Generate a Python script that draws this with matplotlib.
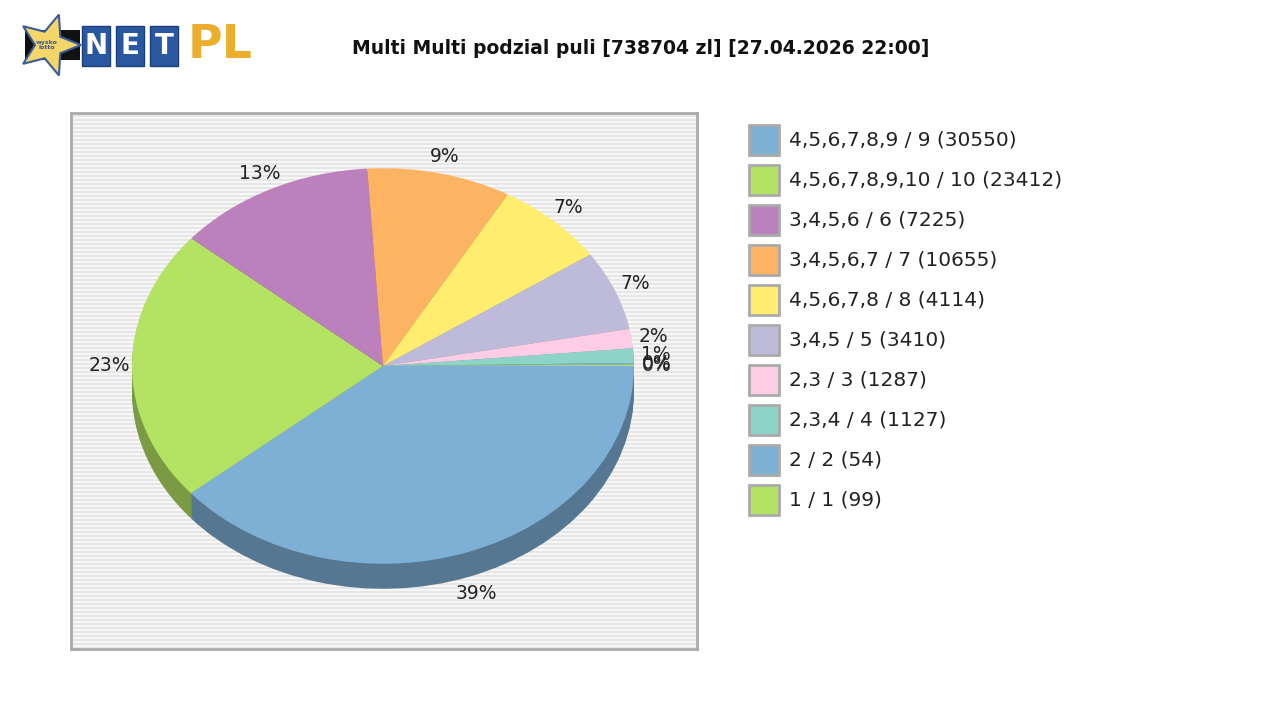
import numpy as np
import matplotlib.pyplot as plt
from matplotlib.patches import Rectangle, Polygon
from matplotlib.colors import to_rgb

title = "Multi Multi podzial puli [738704 zl] [27.04.2026 22:00]"
legend_labels = [
    "4,5,6,7,8,9 / 9 (30550)", "4,5,6,7,8,9,10 / 10 (23412)", "3,4,5,6 / 6 (7225)",
    "3,4,5,6,7 / 7 (10655)", "4,5,6,7,8 / 8 (4114)", "3,4,5 / 5 (3410)",
    "2,3 / 3 (1287)", "2,3,4 / 4 (1127)", "2 / 2 (54)", "1 / 1 (99)",
]
# slice shares (percent)
shares = [39.4, 22.6, 13.0, 9.4, 7.3, 6.6, 1.6, 1.2, 0.15, 0.1]
pct_labels = ["39%", "23%", "13%", "9%", "7%", "7%", "2%", "1%", "0%", "0%"]
colors = ["#7eafd5", "#b4e262", "#bc80bd", "#fdb462", "#ffed6f", "#bebada",
          "#fccde5", "#8dd3c7", "#7eafd5", "#b4e262"]

W, H = 1280, 720
fig = plt.figure(figsize=(12.8, 7.2), dpi=100)

# plot box in pixel coords
bx0, by0, bx1, by1 = 71, 113, 697, 649
ax = fig.add_axes([bx0 / W, 1 - by1 / H, (bx1 - bx0) / W, (by1 - by0) / H])
sy = 250 / 197  # vertical squash of the pie
ax.set_facecolor("#f7f7f7")
for y in np.arange(0, (by1 - by0) * sy, 4 * sy):
    ax.axhspan(y, y + 2 * sy, color="#e6e6e6", lw=0, zorder=0)
for s in ax.spines.values():
    s.set_color("#aaaaaa")
    s.set_linewidth(2)

cx, cy = 383 - bx0, (by1 - 366) * sy
r = 251
depth = 25 * sy
dark = [tuple(c * 0.68 for c in to_rgb(col)) for col in colors]
for k in range(12, 0, -1):
    ax.pie(shares, colors=dark, startangle=0, counterclock=False, radius=r,
           center=(cx, cy - depth * k / 12), frame=True, normalize=True)
wedges, texts = ax.pie(shares, colors=colors, startangle=0, counterclock=False,
                       radius=r, center=(cx, cy), labels=pct_labels,
                       labeldistance=1.09, frame=True, normalize=True,
                       textprops=dict(fontsize=13.5, color="#222222"))
for t in texts:
    t.set_ha("center")
    t.set_va("center")
px, py = texts[0].get_position()
texts[0].set_position((px, py - depth))
ax.set_aspect("auto")
ax.set_xlim(0, bx1 - bx0)
ax.set_ylim(0, (by1 - by0) * sy)
ax.set_xticks([])
ax.set_yticks([])

# title
fig.text(641 / W, 1 - 48 / H, title, ha="center", va="center",
         fontsize=13.5, fontweight="bold", color="#111111")

# legend
for i, (lab, col) in enumerate(zip(legend_labels, colors)):
    yc = 140 + 40 * i
    fig.patches.append(Rectangle((749 / W, 1 - (yc + 15) / H), 30 / W, 30 / H,
                                 transform=fig.transFigure, facecolor=col,
                                 edgecolor="#aaaaaa", lw=2))
    fig.text(789 / W, 1 - yc / H, lab, ha="left", va="center",
             fontsize=14.5, color="#222222")

# logo
lg = fig.add_axes([0, 1 - 90 / H, 300 / W, 90 / H])
lg.set_xlim(0, 300)
lg.set_ylim(90, 0)
lg.axis("off")
ang = np.deg2rad(np.arange(10) * 36)
rad = np.where(np.arange(10) % 2 == 0, 32, 14)
star = np.column_stack([49 + rad * np.cos(ang), 45 + rad * np.sin(ang)])
lg.add_patch(Rectangle((25, 30), 55, 30, facecolor="#111111"))
lg.add_patch(Polygon(star, facecolor="#f3d56a", edgecolor="#3b5a9a", lw=1.5))
lg.text(47, 45, "wysko\nlotto", ha="center", va="center", fontsize=4.5,
        color="#3b5a9a", fontweight="bold")
for j, ch in enumerate("NET"):
    x0 = 82 + j * 34
    lg.add_patch(Rectangle((x0, 26), 28, 40, facecolor="#2a58a0", edgecolor="#1c3f7a"))
    lg.text(x0 + 14, 46, ch, ha="center", va="center", fontsize=20,
            fontweight="bold", color="white")
lg.text(188, 46, "PL", ha="left", va="center", fontsize=34,
        fontweight="bold", color="#eaae2a")

fig.savefig("out.png", dpi=100)
